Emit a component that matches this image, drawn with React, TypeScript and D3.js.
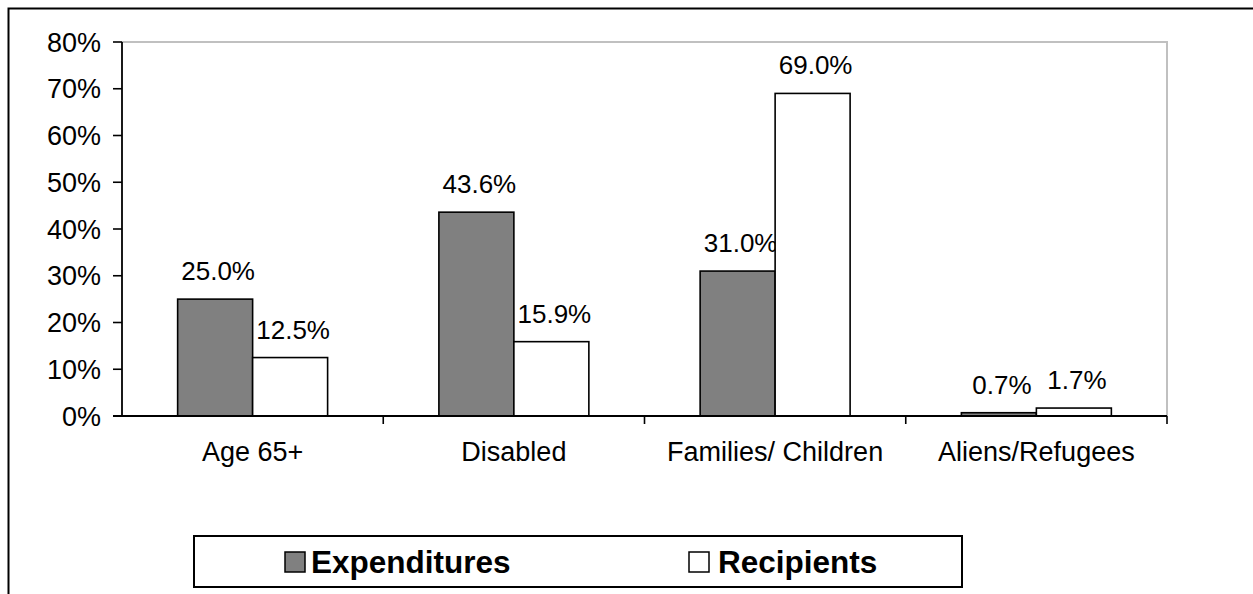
import React from "react";
import * as d3 from "d3";

// Share of program expenditures vs. recipients by eligibility category
const categories = ["Age 65+", "Disabled", "Families/ Children", "Aliens/Refugees"];
const seriesNames = ["Expenditures", "Recipients"];
const expenditures = [25.0, 43.6, 31.0, 0.7];
const recipients = [12.5, 15.9, 69.0, 1.7];
const yTicks = [0, 10, 20, 30, 40, 50, 60, 70, 80];
const seriesFill = ["#808080", "#ffffff"];

const W = 1253;
const H = 594;
const FONT = "'Liberation Sans', Arial, Helvetica, sans-serif";

const plot = { left: 122, right: 1167, top: 42, bottom: 416 };

export default function App() {
  const x0 = d3
    .scaleBand<string>()
    .domain(categories)
    .range([plot.left, plot.right])
    .paddingInner(0)
    .paddingOuter(0);
  const x1 = d3
    .scaleBand<string>()
    .domain(seriesNames)
    .range([0, x0.bandwidth()])
    .paddingInner(0)
    .paddingOuter(0.742);
  const y = d3.scaleLinear().domain([0, 80]).range([plot.bottom, plot.top]);

  const values = [expenditures, recipients];
  const fmt = (v: number) => d3.format(".1f")(v) + "%";

  const boundaries = categories.map((c) => (x0(c) as number) + x0.bandwidth());

  // legend layout
  const legend = { x: 194, y: 536, w: 768, h: 51 };
  const legendItems = [
    { name: seriesNames[0], fill: seriesFill[0], mx: 285, tx: 311 },
    { name: seriesNames[1], fill: seriesFill[1], mx: 689, tx: 718 },
  ];

  return (
    <svg
      width={W}
      height={H}
      style={{ position: "absolute", left: 0, top: 0, display: "block", background: "#fff" }}
      fontFamily={FONT}
    >
      {/* chart frame */}
      <rect x={8.5} y={8.5} width={1400} height={800} fill="none" stroke="#000" strokeWidth={2} />

      {/* plot area border (top and right) */}
      <path
        d={`M${plot.left},${plot.top}H${plot.right}V${plot.bottom}`}
        fill="none"
        stroke="#c0c0c0"
        strokeWidth={2}
      />

      {/* bars */}
      {categories.map((c, i) => (
        <g key={c} transform={`translate(${x0(c)},0)`}>
          {seriesNames.map((s, j) => {
            const v = values[j][i];
            const bx = x1(s) as number;
            const bw = x1.bandwidth();
            return (
              <g key={s}>
                <rect
                  x={bx}
                  y={y(v)}
                  width={bw}
                  height={y(0) - y(v)}
                  fill={seriesFill[j]}
                  stroke="#000"
                  strokeWidth={1.6}
                />
                <text
                  x={bx + bw / 2 + 3}
                  y={y(v) - 19}
                  textAnchor="middle"
                  fontSize={26}
                  fill="#000"
                >
                  {fmt(v)}
                </text>
              </g>
            );
          })}
        </g>
      ))}

      {/* y axis */}
      <line x1={plot.left} x2={plot.left} y1={plot.top} y2={plot.bottom} stroke="#000" strokeWidth={1.8} />
      {yTicks.map((t) => (
        <g key={t}>
          <line x1={plot.left - 9} x2={plot.left} y1={y(t)} y2={y(t)} stroke="#000" strokeWidth={1.6} />
          <text
            x={plot.left - 21}
            y={y(t)}
            dy="0.36em"
            textAnchor="end"
            fontSize={27}
            fill="#000"
          >
            {t}%
          </text>
        </g>
      ))}

      {/* x axis */}
      <line x1={plot.left - 9} x2={plot.right} y1={plot.bottom} y2={plot.bottom} stroke="#000" strokeWidth={1.8} />
      {boundaries.map((bx, i) => (
        <line key={i} x1={bx} x2={bx} y1={plot.bottom} y2={plot.bottom + 8} stroke="#000" strokeWidth={1.6} />
      ))}
      {categories.map((c) => (
        <text
          key={c}
          x={(x0(c) as number) + x0.bandwidth() / 2}
          y={461}
          textAnchor="middle"
          fontSize={27}
          fill="#000"
        >
          {c}
        </text>
      ))}

      {/* legend */}
      <rect
        x={legend.x}
        y={legend.y}
        width={legend.w}
        height={legend.h}
        fill="#fff"
        stroke="#000"
        strokeWidth={2}
      />
      {legendItems.map((it) => (
        <g key={it.name}>
          <rect x={it.mx} y={552} width={20} height={20} fill={it.fill} stroke="#000" strokeWidth={1.5} />
          <text x={it.tx} y={573} fontSize={31.5} fontWeight="bold" fill="#000">
            {it.name}
          </text>
        </g>
      ))}
    </svg>
  );
}
